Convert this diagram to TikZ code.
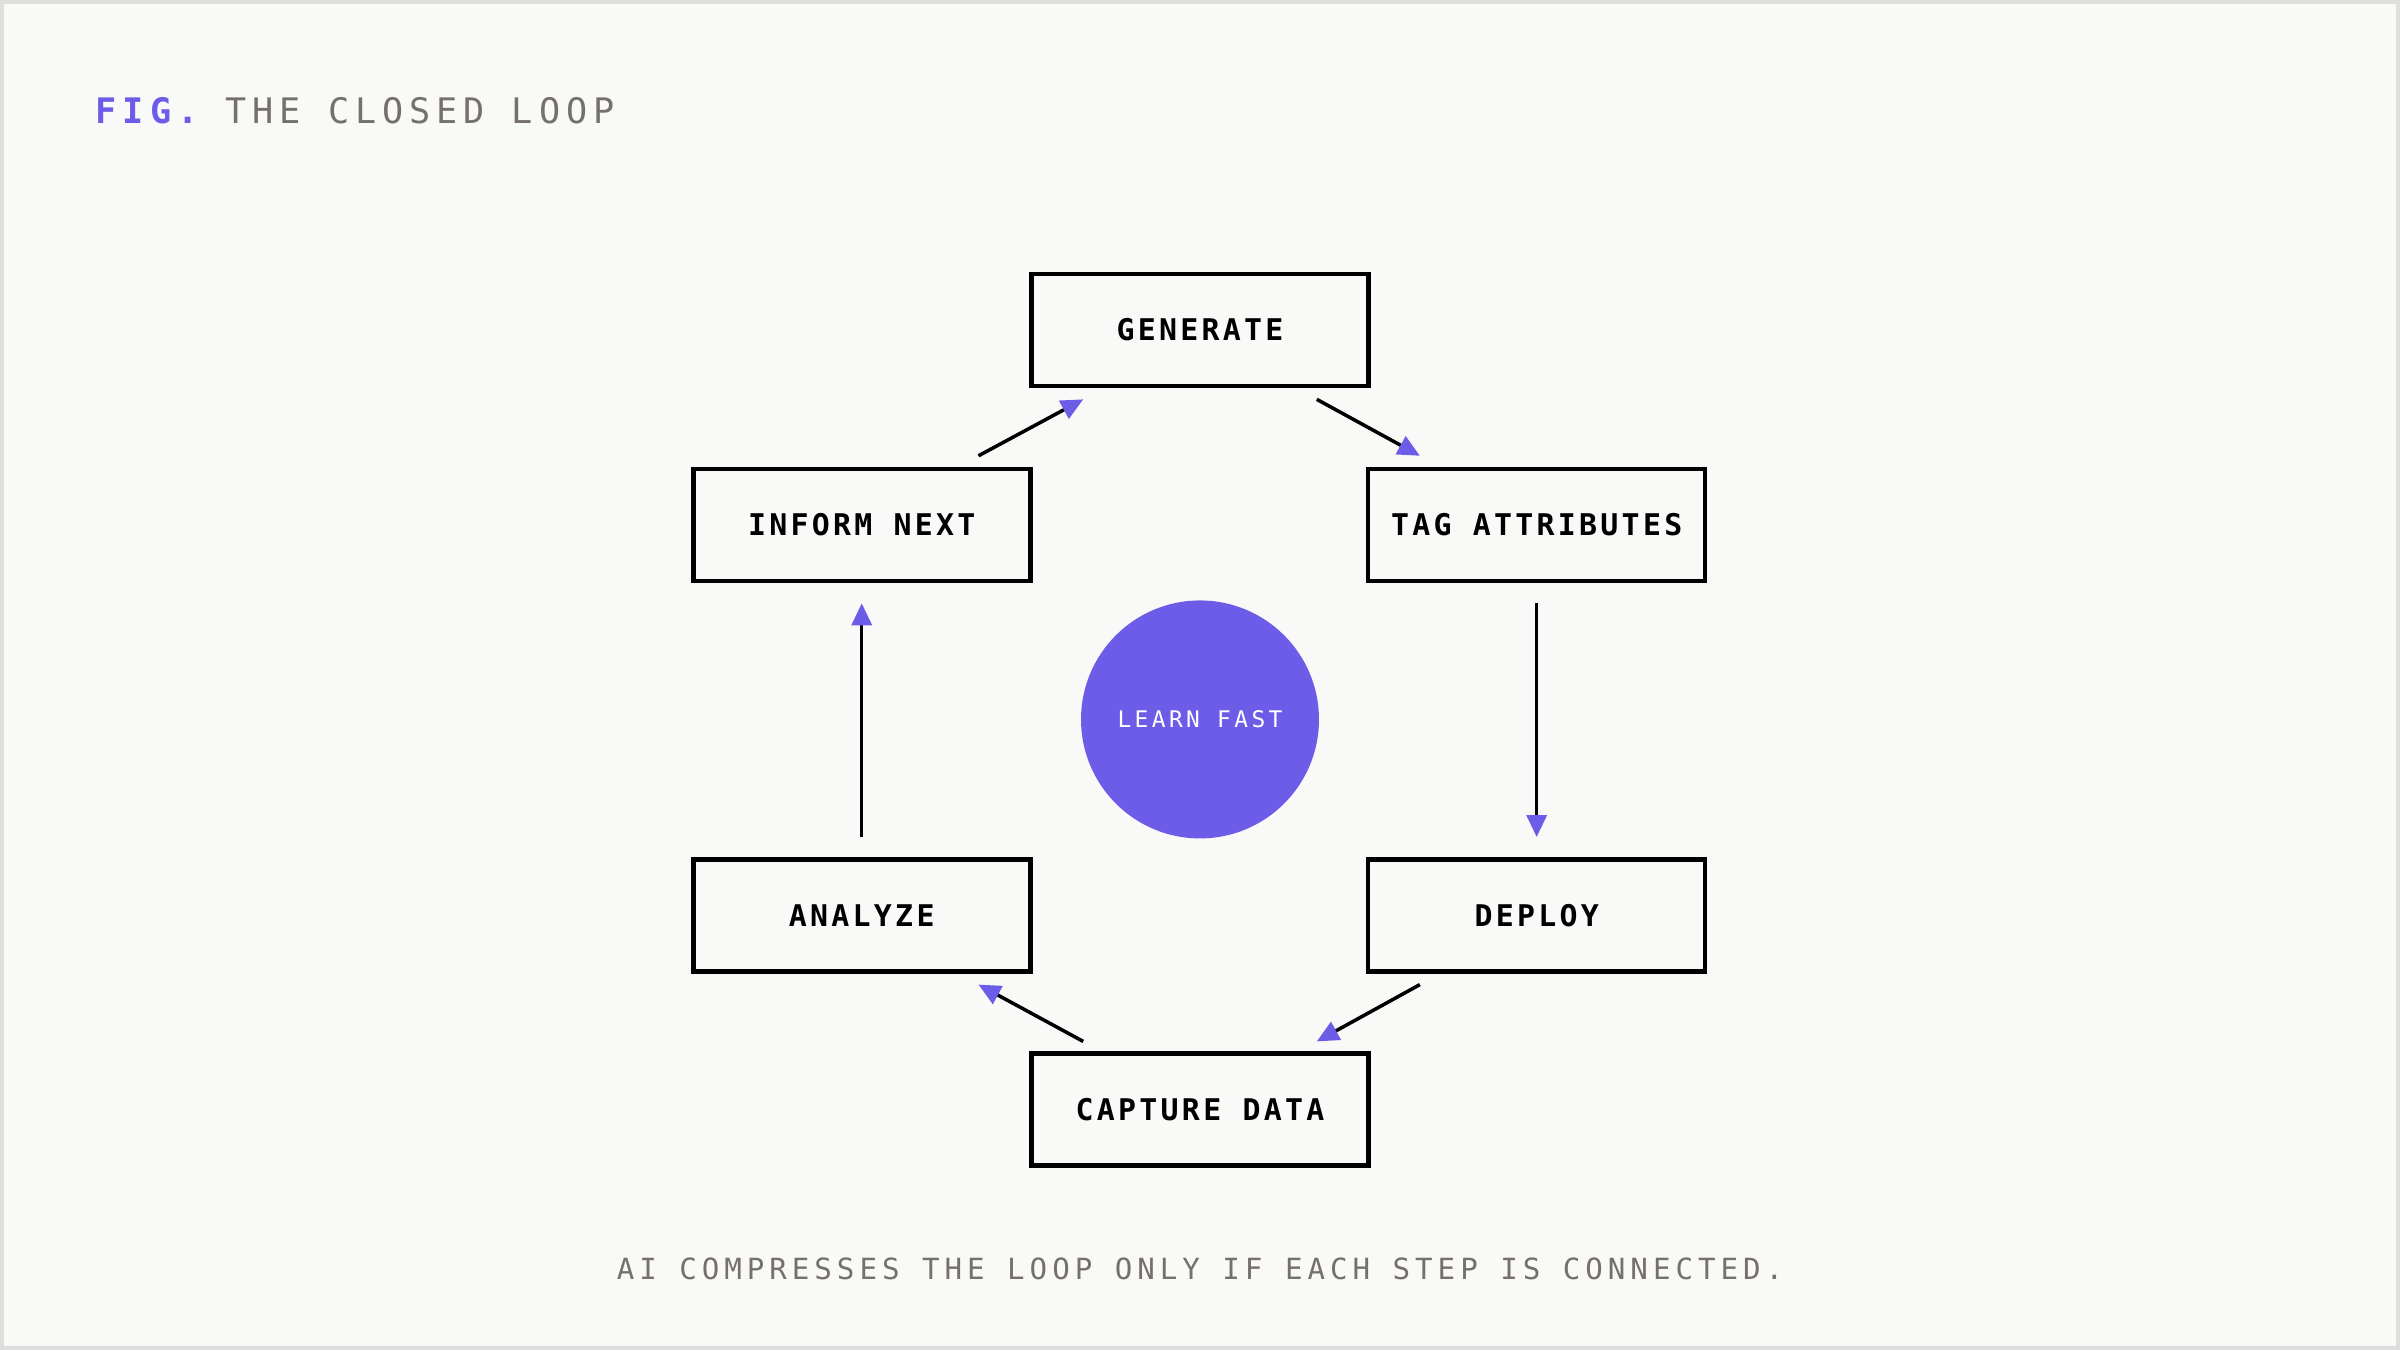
\documentclass[tikz,border=0pt]{standalone}
\usepackage{fontspec}
\setmonofont{DejaVu Sans Mono}
\usetikzlibrary{arrows.meta,calc}
\definecolor{accent}{HTML}{6C5CE7}
\definecolor{paper}{HTML}{F9F9F7}
\definecolor{muted}{HTML}{75706B}
\definecolor{frame}{HTML}{DEDEDC}
\tikzset{
  stage/.style={draw=black,line width=1.3pt,minimum width=3.37cm,minimum height=1.12cm,
    font=\ttfamily\bfseries\fontsize{8.5}{10}\selectfont\addfontfeatures{LetterSpace=11}},
  flow/.style={line width=1pt,-{Triangle[length=0.22cm,width=0.2cm,color=accent]}},
}
\begin{document}
\begin{tikzpicture}
  \fill[paper] (0,0) rectangle (24,13.5);
  \draw[frame,line width=1.2pt] (0.02,0.02) rectangle (23.98,13.48);
  \useasboundingbox (0,0) rectangle (24,13.5);
  % title and caption
  \node[anchor=base west,inner sep=0,font=\ttfamily\fontsize{10}{12}\selectfont\addfontfeatures{LetterSpace=17}] (title) at (0.95,12.27)
    {\textcolor{accent}{\bfseries FIG.} \textcolor{muted}{THE CLOSED LOOP}};
  \node[anchor=base,inner sep=0,text=muted,font=\ttfamily\fontsize{8.3}{10}\selectfont\addfontfeatures{LetterSpace=17}] (caption) at (12,0.70)
    {AI COMPRESSES THE LOOP ONLY IF EACH STEP IS CONNECTED.};
  % stages
  \node[stage] (gen) at (12,10.20) {GENERATE};
  \node[stage] (tag) at (15.367,8.25) {TAG ATTRIBUTES};
  \node[stage] (dep) at (15.367,4.347) {DEPLOY};
  \node[stage] (cap) at (12,2.403) {CAPTURE DATA};
  \node[stage] (ana) at (8.617,4.347) {ANALYZE};
  \node[stage] (inf) at (8.617,8.25) {INFORM NEXT};
  \node[circle,fill=accent,minimum size=2.38cm,text=white,
    font=\ttfamily\fontsize{6.5}{8}\selectfont\addfontfeatures{LetterSpace=15}] (hub) at (12,6.306) {LEARN FAST};
  % connectors
  \draw[flow] ($(gen.south east)+(-0.54,-0.11)$) -- ($(tag.north west)+(0.54,0.11)$);
  \draw[flow,shorten <=0.2cm,shorten >=0.2cm] (tag.south) -- (dep.north);
  \draw[flow] ($(dep.south west)+(0.54,-0.11)$) -- ($(cap.north east)+(-0.54,0.1)$);
  \draw[flow] ($(cap.north west)+(0.54,0.1)$) -- ($(ana.south east)+(-0.54,-0.11)$);
  \draw[flow,shorten <=0.2cm,shorten >=0.2cm] (ana.north) -- (inf.south);
  \draw[flow] ($(inf.north east)+(-0.54,0.11)$) -- ($(gen.south west)+(0.54,-0.11)$);
\end{tikzpicture}
\end{document}
